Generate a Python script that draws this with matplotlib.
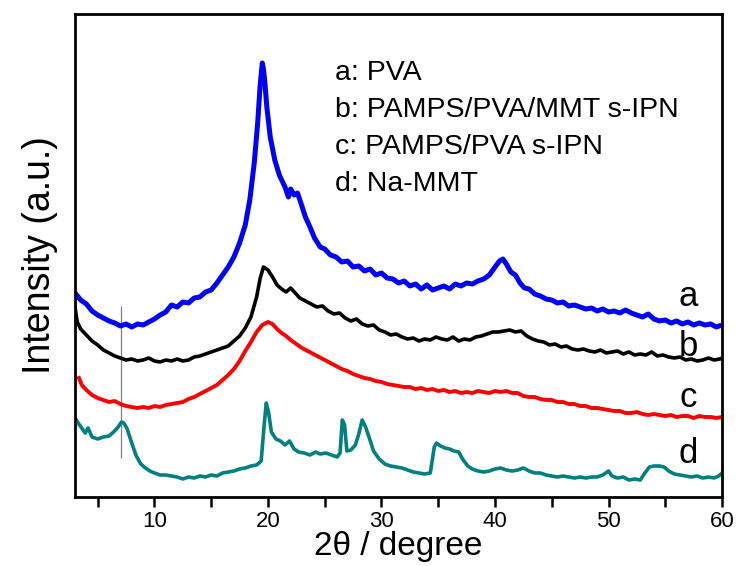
import matplotlib.pyplot as plt
from matplotlib.ticker import MultipleLocator

# a: PVA
a_x = [3.0, 3.5, 4.0, 4.5, 5.0, 5.5, 6.0, 6.5, 7.0, 7.5, 8.0, 8.5, 9.0, 9.5, 10.0, 10.5, 11.0, 11.5,
       12.0, 12.5, 13.0, 13.5, 14.0, 14.5, 15.0, 15.5, 16.0, 16.5, 17.0, 17.5, 18.0, 18.4, 18.8, 19.1,
       19.3, 19.5, 19.6, 19.7, 19.9, 20.2, 20.6, 21.0, 21.5, 21.8, 22.0, 22.3, 22.6, 22.9, 23.3, 23.7,
       24.1, 24.6, 25.0, 25.5, 26.0, 26.5, 27.0, 27.5, 28.0, 28.5, 29.0, 29.5, 30.0, 30.5, 31.0, 31.5,
       32.0, 32.5, 33.0, 33.5, 34.0, 34.5, 35.0, 35.5, 36.0, 36.5, 37.0, 37.5, 38.0, 38.5, 39.0, 39.5,
       40.0, 40.4, 40.7, 41.0, 41.4, 41.8, 42.2, 42.6, 43.0, 43.5, 44.0, 44.5, 45.0, 45.5, 46.0, 46.5,
       47.0, 47.5, 48.0, 48.5, 49.0, 49.5, 50.0, 50.5, 51.0, 51.5, 52.0, 52.5, 53.0, 53.5, 54.0, 54.5,
       55.0, 55.5, 56.0, 56.5, 57.0, 57.5, 58.0, 58.5, 59.0, 59.5, 60.0]
a_y = [204, 197, 193, 186, 182, 179, 176, 174, 171, 173, 170, 173, 172, 175, 178, 182, 185, 192,
       190, 195, 194, 199, 200, 205, 207, 214, 222, 230, 240, 254, 272, 297, 335, 375,
       410, 434, 428, 418, 390, 360, 337, 322, 310, 300, 308, 302, 304, 294, 280, 270,
       259, 250, 248, 242, 240, 235, 236, 230, 231, 226, 228, 222, 224, 219, 218, 214,
       216, 211, 213, 208, 212, 207, 209, 211, 208, 213, 211, 214, 213, 216, 218, 222,
       230, 236, 238, 233, 225, 222, 214, 209, 208, 203, 201, 198, 197, 194, 195, 191,
       192, 190, 188, 189, 186, 188, 185, 186, 184, 187, 184, 182, 180, 183, 178, 176,
       177, 174, 176, 173, 175, 172, 174, 172, 173, 170, 172]

# b: PAMPS/PVA/MMT s-IPN
b_x = [3.0, 3.2, 3.5, 4.0, 4.5, 5.0, 5.5, 6.0, 6.5, 7.0, 7.5, 8.0, 8.5, 9.0, 9.5, 10.0, 10.5, 11.0,
       11.5, 12.0, 12.5, 13.0, 13.5, 14.0, 14.5, 15.0, 15.5, 16.0, 16.5, 17.0, 17.5, 18.0, 18.5, 19.0,
       19.3, 19.6, 20.0, 20.4, 20.8, 21.2, 21.6, 22.0, 22.4, 22.8, 23.3, 23.8, 24.3, 24.8, 25.3, 25.8,
       26.3, 26.8, 27.3, 27.8, 28.3, 28.8, 29.3, 29.8, 30.3, 30.8, 31.3, 31.8, 32.3, 32.8, 33.3, 33.8,
       34.3, 34.8, 35.3, 35.8, 36.3, 36.8, 37.3, 37.8, 38.3, 38.8, 39.3, 39.8, 40.3, 40.8, 41.3, 41.8,
       42.3, 42.8, 43.3, 43.8, 44.3, 44.8, 45.3, 45.8, 46.3, 46.8, 47.3, 47.8, 48.3, 48.8, 49.3, 49.8,
       50.3, 50.8, 51.3, 51.8, 52.3, 52.8, 53.3, 53.8, 54.3, 54.8, 55.3, 55.8, 56.3, 56.8, 57.3, 57.8,
       58.3, 58.8, 59.3, 59.8, 60.0]
b_y = [190, 175, 168, 162, 156, 152, 147, 144, 141, 139, 137, 138, 136, 137, 139, 136, 135, 137,
       136, 138, 136, 137, 140, 141, 143, 145, 147, 149, 151, 156, 161, 169, 180, 200,
       218, 230, 227, 220, 212, 208, 205, 209, 204, 199, 196, 193, 190, 191, 186, 183,
       184, 179, 176, 178, 173, 171, 172, 167, 165, 162, 163, 160, 158, 159, 156, 158,
       157, 160, 158, 157, 160, 156, 158, 157, 160, 161, 163, 165, 165, 166, 167, 165,
       166, 161, 158, 156, 155, 152, 153, 150, 151, 148, 147, 148, 146, 145, 147, 144,
       145, 146, 143, 145, 142, 143, 142, 145, 141, 142, 140, 139, 140, 137, 138, 136,
       137, 139, 137, 138, 139]

# c: PAMPS/PVA s-IPN
c_x = [3.35, 3.6, 4.0, 4.5, 5.0, 5.5, 6.0, 6.5, 7.0, 7.5, 8.0, 8.5, 9.0, 9.5, 10.0, 10.5, 11.0, 11.5,
       12.0, 12.5, 13.0, 13.5, 14.0, 14.5, 15.0, 15.5, 16.0, 16.5, 17.0, 17.5, 18.0, 18.5, 19.0, 19.5,
       20.0, 20.4, 20.8, 21.2, 21.6, 22.0, 22.5, 23.0, 23.5, 24.0, 24.5, 25.0, 25.5, 26.0, 26.5, 27.0,
       27.5, 28.0, 28.5, 29.0, 29.5, 30.0, 30.5, 31.0, 31.5, 32.0, 32.5, 33.0, 33.5, 34.0, 34.5, 35.0,
       35.5, 36.0, 36.5, 37.0, 37.5, 38.0, 38.5, 39.0, 39.5, 40.0, 40.5, 41.0, 41.5, 42.0, 42.5, 43.0,
       43.5, 44.0, 44.5, 45.0, 45.5, 46.0, 46.5, 47.0, 47.5, 48.0, 48.5, 49.0, 49.5, 50.0, 50.5, 51.0,
       51.5, 52.0, 52.5, 53.0, 53.5, 54.0, 54.5, 55.0, 55.5, 56.0, 56.5, 57.0, 57.5, 58.0, 58.5, 59.0,
       59.5, 60.0]
c_y = [119, 112, 107, 102, 99, 97, 95, 96, 93, 91, 90, 89, 90, 89, 91, 90, 92, 93,
       94, 95, 98, 100, 103, 106, 109, 112, 117, 122, 128, 136, 146, 155, 165, 172,
       175, 173, 168, 164, 161, 157, 153, 149, 146, 143, 140, 137, 134, 131, 128, 126,
       123, 121, 119, 118, 116, 115, 113, 112, 111, 110, 110, 108, 109, 107, 108, 106,
       107, 105, 106, 104, 105, 104, 106, 105, 104, 106, 105, 106, 104, 104, 101, 100,
       100, 98, 97, 97, 95, 95, 93, 93, 91, 91, 89, 89, 88, 87, 86, 86,
       84, 84, 85, 83, 82, 83, 82, 81, 82, 80, 81, 81, 79, 81, 80, 80,
       79, 80]

# d: Na-MMT
d_x = [3.0, 3.4, 3.9, 4.15, 4.5, 5.0, 5.5, 6.0, 6.4, 6.8, 7.1, 7.3, 7.6, 8.0, 8.4, 8.8, 9.2, 9.6,
       10.0, 10.5, 11.0, 11.5, 12.0, 12.5, 13.0, 13.5, 14.0, 14.5, 15.0, 15.5, 16.0, 16.5, 17.0, 17.5,
       18.0, 18.5, 19.0, 19.4, 19.65, 19.85, 20.05, 20.3, 20.7, 21.1, 21.5, 21.9, 22.3, 22.7, 23.2, 23.7,
       24.2, 24.6, 25.1, 25.6, 26.1, 26.35, 26.55, 26.75, 26.95, 27.3, 27.7, 28.0, 28.3, 28.6, 28.9, 29.3,
       29.8, 30.3, 30.8, 31.3, 31.8, 32.3, 32.8, 33.3, 33.8, 34.3, 34.65, 34.85, 35.2, 35.6, 36.0, 36.4,
       36.8, 37.2, 37.6, 38.0, 38.5, 39.0, 39.5, 40.0, 40.5, 41.0, 41.5, 42.0, 42.5, 43.0, 43.5, 44.0,
       44.5, 45.0, 45.5, 46.0, 46.5, 47.0, 47.5, 48.0, 48.5, 49.0, 49.5, 50.0, 50.3, 50.8, 51.3, 51.8,
       52.3, 52.8, 53.2, 53.6, 54.0, 54.5, 54.9, 55.3, 55.8, 56.3, 56.8, 57.3, 57.8, 58.3, 58.8, 59.3,
       59.7, 60.0]
d_y = [79, 72, 64, 69, 60, 58, 60, 61, 65, 70, 75, 74, 68, 54, 41, 33, 29, 26,
       24, 22, 22, 21, 20, 18, 20, 19, 21, 20, 22, 21, 24, 25, 26, 28,
       29, 31, 32, 36, 70, 94, 85, 65, 58, 56, 52, 56, 48, 45, 44, 42,
       45, 43, 44, 42, 40, 44, 77, 72, 46, 47, 52, 63, 77, 70, 60, 46,
       38, 33, 31, 30, 29, 27, 25, 24, 23, 24, 50, 54, 51, 49, 48, 46,
       45, 37, 31, 28, 26, 25, 26, 28, 29, 27, 26, 27, 29, 26, 24, 24,
       22, 21, 20, 21, 20, 19, 20, 19, 20, 20, 22, 26, 21, 19, 20, 17,
       18, 17, 24, 30, 31, 31, 30, 26, 23, 22, 21, 20, 21, 19, 20, 19,
       21, 24]

legend_lines = ['a: PVA', 'b: PAMPS/PVA/MMT s-IPN', 'c: PAMPS/PVA s-IPN', 'd: Na-MMT']
curve_labels = ['a', 'b', 'c', 'd']
label_x = 57.0
label_y = [191, 141, 90, 34]
marker_x = 7.05
marker_y = [39, 191]

plt.rcParams['font.family'] = ['Liberation Sans', 'DejaVu Sans']

fig = plt.figure(figsize=(7.41, 5.66), dpi=100)
ax = fig.add_axes([0.1012, 0.1219, 0.8732, 0.8534])

ax.vlines(marker_x, marker_y[0], marker_y[1], color='#808080', lw=0.9)
ax.plot(d_x, d_y, color='#008080', lw=2.6)
ax.plot(c_x, c_y, color='#ff0000', lw=2.8)
ax.plot(b_x, b_y, color='black', lw=2.6)
ax.plot(a_x, a_y, color='#0000ff', lw=3.6)

for lab, ly in zip(curve_labels, label_y):
    ax.text(label_x, ly, lab, fontsize=25, ha='center', va='baseline')

for i, t in enumerate(legend_lines):
    ax.text(0.402, 0.878 - i * 0.0766, t, transform=ax.transAxes,
            fontsize=20.5, ha='left', va='center')

ax.set_xlim(3, 60)
ax.set_ylim(0, 483)
ax.xaxis.set_major_locator(MultipleLocator(10))
ax.xaxis.set_minor_locator(MultipleLocator(5))
ax.tick_params(axis='x', which='both', direction='out', length=7, width=1.8,
               labelsize=16, pad=3)
ax.set_yticks([])
for s in ax.spines.values():
    s.set_linewidth(2.0)

ax.set_xlabel('2θ / degree', fontsize=24, labelpad=-1)
ax.set_ylabel('Intensity (a.u.)', fontsize=27, labelpad=12)

fig.savefig('out.png', dpi=100)
